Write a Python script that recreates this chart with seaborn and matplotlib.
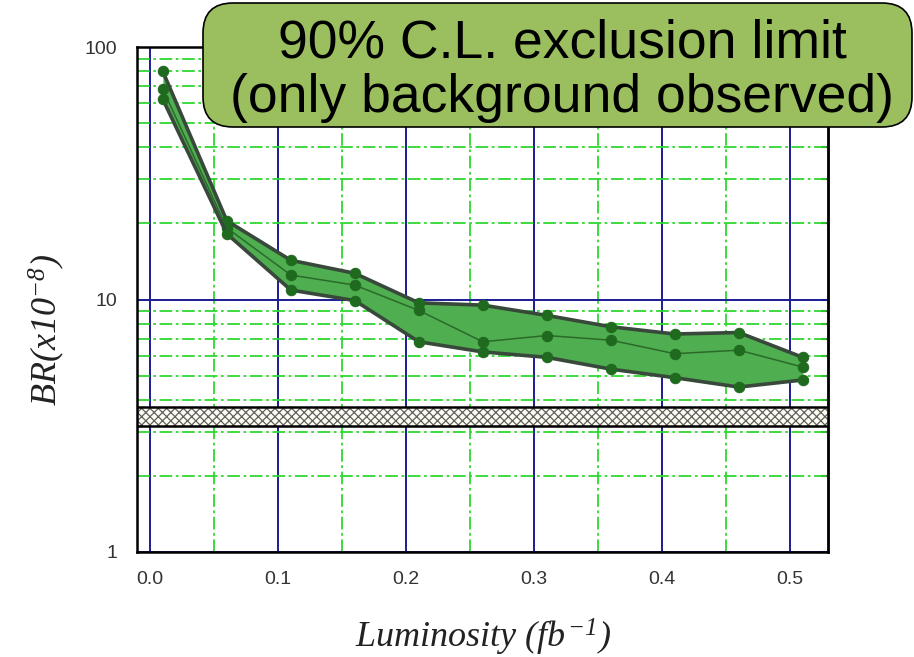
import numpy as np
import pandas as pd
import matplotlib
matplotlib.use("Agg")
import matplotlib.pyplot as plt
import seaborn as sns
from matplotlib.patches import FancyBboxPatch
from matplotlib.ticker import FixedLocator, MultipleLocator, LogLocator, NullFormatter, FixedFormatter

# --- data -----------------------------------------------------------------
lumi = [0.01, 0.06, 0.11, 0.16, 0.21, 0.26, 0.31, 0.36, 0.41, 0.46, 0.51]
br_upper = [80.0, 20.5, 14.3, 12.7, 9.7, 9.5, 8.65, 7.8, 7.3, 7.4, 5.9]
br_central = [68.0, 19.2, 12.5, 11.4, 9.05, 6.8, 7.2, 6.9, 6.1, 6.3, 5.4]
br_lower = [62.0, 18.2, 10.9, 9.9, 6.8, 6.2, 5.9, 5.3, 4.9, 4.5, 4.8]
curve_names = ["upper", "central", "lower"]
ref_band = [3.15, 3.75]
x_ticks = [0.0, 0.1, 0.2, 0.3, 0.4, 0.5]
x_tick_labels = ["0.0", "0.1", "0.2", "0.3", "0.4", "0.5"]
y_ticks = [1, 10, 100]
y_tick_labels = ["1", "10", "100"]
box_lines = ["90% C.L. exclusion limit", "(only background observed)"]

# --- style ----------------------------------------------------------------
sns.set_style("white")
plt.rcParams["font.family"] = ["Liberation Sans", "DejaVu Sans"]
plt.rcParams["mathtext.fontset"] = "custom"
plt.rcParams["mathtext.rm"] = "Liberation Serif:italic"
plt.rcParams["mathtext.it"] = "Liberation Serif:italic"
plt.rcParams["hatch.linewidth"] = 0.9

df = pd.DataFrame({
    "lumi": lumi * 3,
    "br": br_upper + br_central + br_lower,
    "curve": [c for c in curve_names for _ in lumi],
})

edge_col = "#38483a"
fill_col = "#4fae4f"
mid_col = "#2a6a2a"
marker_col = "#1f6a1f"

fig = plt.figure(figsize=(9.14, 6.57), dpi=100)
ax = fig.add_axes([137 / 914, 1 - 552 / 657, 691 / 914, 505 / 657])
ax.set_yscale("log")

# hatched reference band
ax.axhspan(ref_band[0], ref_band[1], facecolor="#fffdf0", edgecolor="#606060",
           hatch="xxxx", linewidth=0, zorder=1.5)
for yb in ref_band:
    ax.axhline(yb, color="black", lw=1.8, zorder=1.6)

# excluded region between upper and lower limits
ax.fill_between(lumi, br_lower, br_upper, color=fill_col, lw=0, zorder=2)

sns.lineplot(data=df, x="lumi", y="br", hue="curve", hue_order=curve_names,
             palette={"upper": edge_col, "central": mid_col, "lower": edge_col},
             size="curve", sizes={"upper": 2.6, "central": 1.1, "lower": 2.6},
             marker="o", markersize=7.5, markerfacecolor=marker_col,
             markeredgecolor=marker_col, sort=False, legend=False, ax=ax, zorder=3)

ax.set_xlim(-0.0102, 0.5297)
ax.set_ylim(1, 100)

ax.xaxis.set_major_locator(FixedLocator(x_ticks))
ax.xaxis.set_major_formatter(FixedFormatter(x_tick_labels))
ax.xaxis.set_minor_locator(MultipleLocator(0.05))
ax.yaxis.set_major_locator(FixedLocator(y_ticks))
ax.yaxis.set_major_formatter(FixedFormatter(y_tick_labels))
ax.yaxis.set_minor_locator(LogLocator(base=10, subs=np.arange(2, 10)))
ax.yaxis.set_minor_formatter(NullFormatter())

ax.set_axisbelow(True)
ax.grid(which="major", axis="both", color="#1c1c96", lw=1.4, ls="-")
ax.grid(which="minor", axis="both", color="#2fd82f", lw=1.3, ls=(0, (7, 2, 1.5, 2)))

for sp in ax.spines.values():
    sp.set_color("black")
    sp.set_linewidth(1.8)
    sp.set_zorder(4)

ax.tick_params(axis="both", which="major", direction="out", length=9, width=1.5,
               color="black", labelsize=14, labelcolor="#333333", pad=5)
ax.tick_params(axis="both", which="minor", direction="out", length=6, width=1.5,
               color="black")

sec = ax.secondary_yaxis("right")
sec.yaxis.set_major_locator(FixedLocator(y_ticks))
sec.yaxis.set_minor_locator(LogLocator(base=10, subs=np.arange(2, 10)))
sec.tick_params(which="both", direction="in", length=5, width=1.5,
                labelright=False)
sec.yaxis.set_minor_formatter(NullFormatter())
sec.spines["right"].set_linewidth(1.8)

ax.set_xlabel(r"$Luminosity\ (fb^{-1})$", fontsize=26, color="#222222")
ax.xaxis.set_label_coords(0.5, -0.19)
ax.xaxis.label.set_va("baseline")
ax.set_ylabel(r"$BR(x10^{-8})$", fontsize=26, color="#222222")
ax.yaxis.set_label_coords(-0.13, 0.44)
ax.yaxis.label.set_va("center")

# annotation box
box = FancyBboxPatch((2.03, 5.30), 7.09, 1.24,
                     boxstyle="round,pad=0,rounding_size=0.3",
                     transform=fig.dpi_scale_trans, facecolor="#9bbf5f",
                     edgecolor="black", linewidth=1.2, zorder=10)
fig.patches.append(box)
fig.text(0.615, 1 - 57 / 657, box_lines[0], ha="center", va="baseline",
         fontsize=38.5, color="black", zorder=11)
fig.text(0.615, 1 - 112 / 657, box_lines[1], ha="center", va="baseline",
         fontsize=38.5, color="black", zorder=11)

fig.savefig("out.png", dpi=100, facecolor="white")
